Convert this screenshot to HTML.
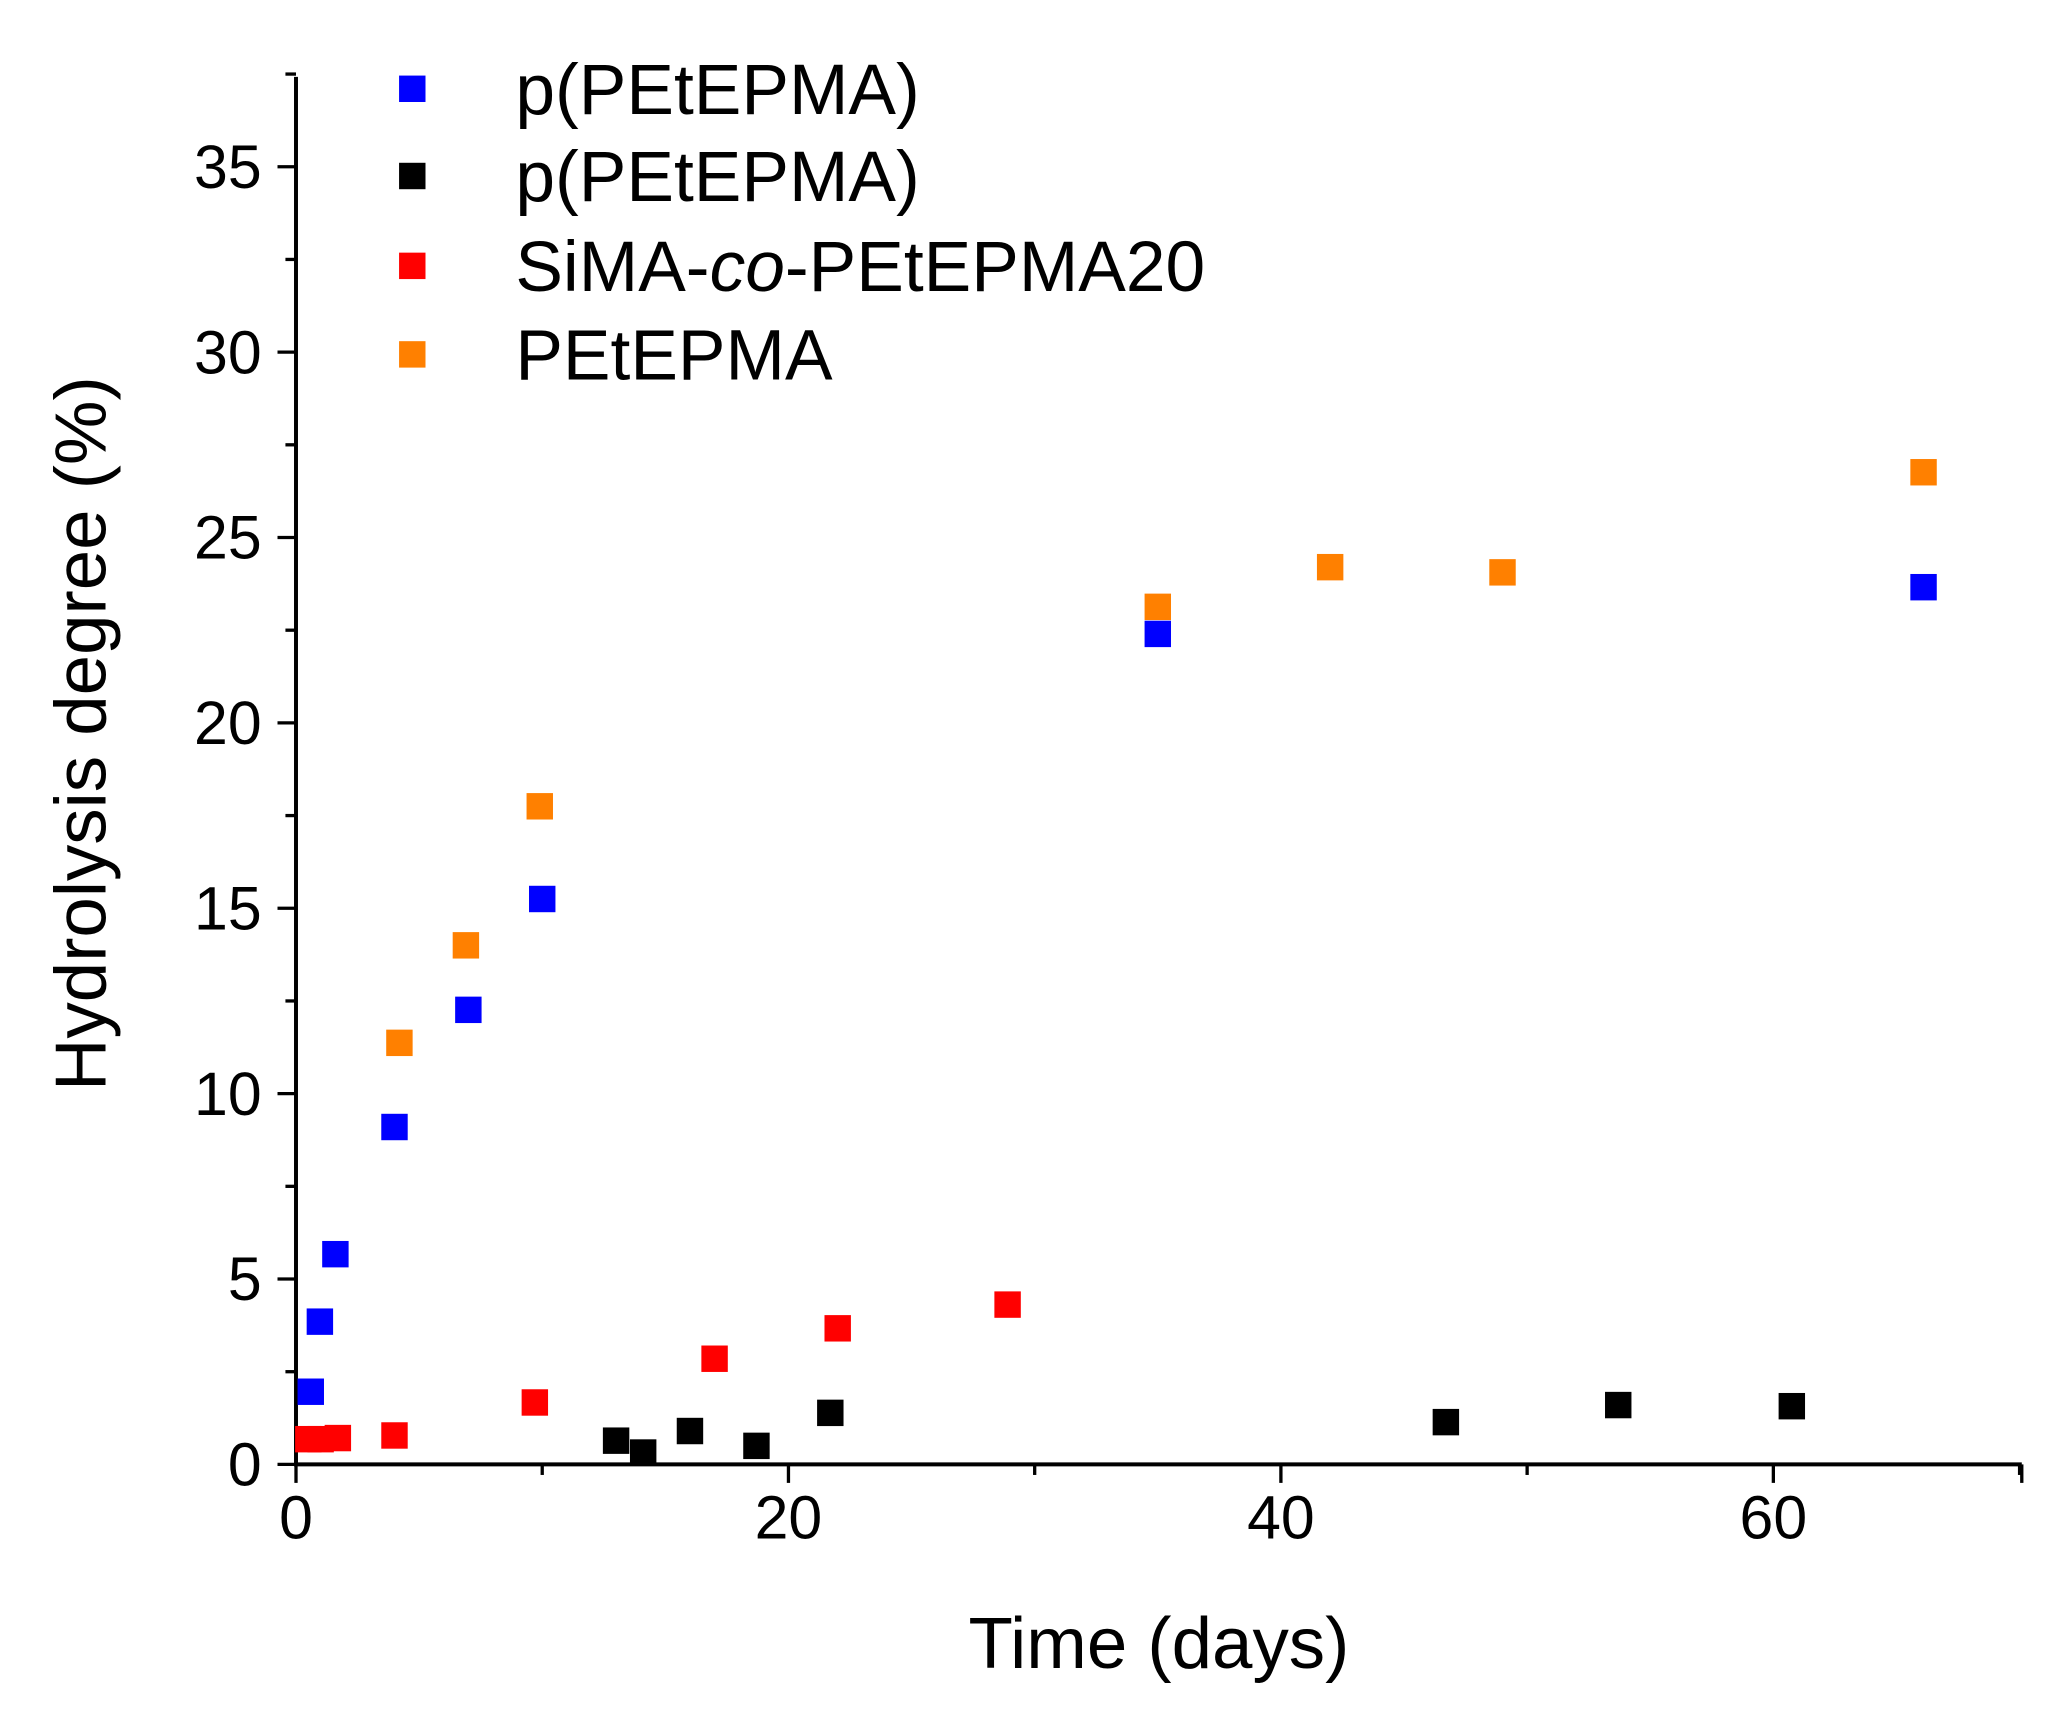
<!DOCTYPE html>
<html><head><meta charset="utf-8"><style>
html,body{margin:0;padding:0;background:#fff;}
svg{display:block;}
text{font-family:"Liberation Sans",Arial,sans-serif;fill:#000;}
</style></head>
<body>
<svg id="chart" width="2072" height="1721" viewBox="0 0 1568 1302" xmlns="http://www.w3.org/2000/svg">
<rect width="1568" height="1302" fill="#fff"/>
<g id="axes"></g>
<g id="marks"></g>
<g id="legend"></g>
</svg>
<script>
const xTicks = [0, 20, 40, 60];
const yTicks = [0, 5, 10, 15, 20, 25, 30, 35];
const seriesNames = ["p(PEtEPMA)", "p(PEtEPMA)", "SiMA-co-PEtEPMA20", "PEtEPMA"];
const seriesColors = ["#0000ff", "#000000", "#ff0000", "#ff8000"];
const blueX = [0.6, 0.97, 1.6, 4.0, 7.0, 10.0, 35.0, 66.1];
const blueY = [1.96, 3.85, 5.67, 9.1, 12.26, 15.25, 22.4, 23.66];
const blackX = [13.0, 14.1, 16.0, 18.7, 21.7, 46.7, 53.7, 60.75];
const blackY = [0.64, 0.32, 0.9, 0.5, 1.39, 1.14, 1.6, 1.57];
const redX = [0.5, 1.0, 1.7, 4.0, 9.7, 17.0, 22.0, 28.9];
const redY = [0.68, 0.68, 0.71, 0.78, 1.67, 2.85, 3.67, 4.31];
const orangeX = [4.2, 6.9, 9.9, 35.0, 42.0, 49.0, 66.1];
const orangeY = [11.37, 14.0, 17.75, 23.13, 24.2, 24.06, 26.76];

const NS = "http://www.w3.org/2000/svg";
const X0 = 224, Y0 = 1108, XR = 1530, YT = 58;
const xs = v => X0 + v * (1342 - 224) / 60;
const ys = v => Y0 - v * (1108 - 126) / 35;
function mk(tag, attrs, parent) {
  const e = document.createElementNS(NS, tag);
  for (const k in attrs) e.setAttribute(k, attrs[k]);
  parent.appendChild(e);
  return e;
}
const axes = document.getElementById("axes");
const yAxis = mk("line", {x1: X0, y1: YT, x2: X0, y2: Y0, stroke: "#000", "stroke-width": 3}, axes);


const xAxis = mk("line", {x1: X0 - 1.5, y1: Y0, x2: XR, y2: Y0, stroke: "#000", "stroke-width": 3}, axes);


for (let v = 0; v <= 70; v += 10) {
  const major = v % 20 === 0;
  mk("line", {x1: xs(v), y1: Y0, x2: xs(v), y2: Y0 + (major ? 14 : 8), stroke: "#000", "stroke-width": 2.5}, axes);
}
mk("line", {x1: XR, y1: Y0, x2: XR, y2: Y0 + 14, stroke: "#000", "stroke-width": 2.5}, axes);
for (let v = 0; v <= 37.5; v += 2.5) {
  const major = v % 5 === 0;
  mk("line", {x1: X0, y1: ys(v), x2: X0 - (major ? 14 : 8), y2: ys(v), stroke: "#000", "stroke-width": 2.5}, axes);
}
xTicks.forEach(v => {
  const t = mk("text", {x: xs(v), y: Y0 + 56, "font-size": 46, "text-anchor": "middle"}, axes);
  t.textContent = v;
  
  
});
yTicks.forEach(v => {
  const t = mk("text", {x: X0 - 26, y: ys(v) + 16, "font-size": 46, "text-anchor": "end"}, axes);
  t.textContent = v;
  
  
});
const xt = mk("text", {x: 877, y: 1262, "font-size": 55, "text-anchor": "middle"}, axes);
xt.textContent = "Time (days)";


const yt = mk("text", {x: 0, y: 0, "font-size": 55, "text-anchor": "middle", transform: "translate(80,555) rotate(-90)"}, axes);
yt.textContent = "Hydrolysis degree (%)";



const marks = document.getElementById("marks");
const allX = [blueX, blackX, redX, orangeX];
const allY = [blueY, blackY, redY, orangeY];
const S = 20;
[0, 2, 3, 1].forEach(si => {
  allX[si].forEach((xv, i) => {
    const r = mk("rect", {x: xs(xv) - S / 2, y: ys(allY[si][i]) - S / 2, width: S, height: S, fill: seriesColors[si]}, marks);
    
    
  });
});

const legend = document.getElementById("legend");
const ly = [67, 133, 201, 268];
seriesNames.forEach((n, i) => {
  const g = mk("g", {}, legend);
  
  
  mk("rect", {x: 302, y: ly[i] - 10, width: 20, height: 20, fill: seriesColors[i]}, g);
  const t = mk("text", {x: 390, y: ly[i] + 19, "font-size": 54}, g);
  if (i === 2) {
    t.innerHTML = 'SiMA-<tspan font-style="italic">co</tspan>-PEtEPMA20';
  } else {
    t.textContent = n;
  }
});
</script>
</body></html>
